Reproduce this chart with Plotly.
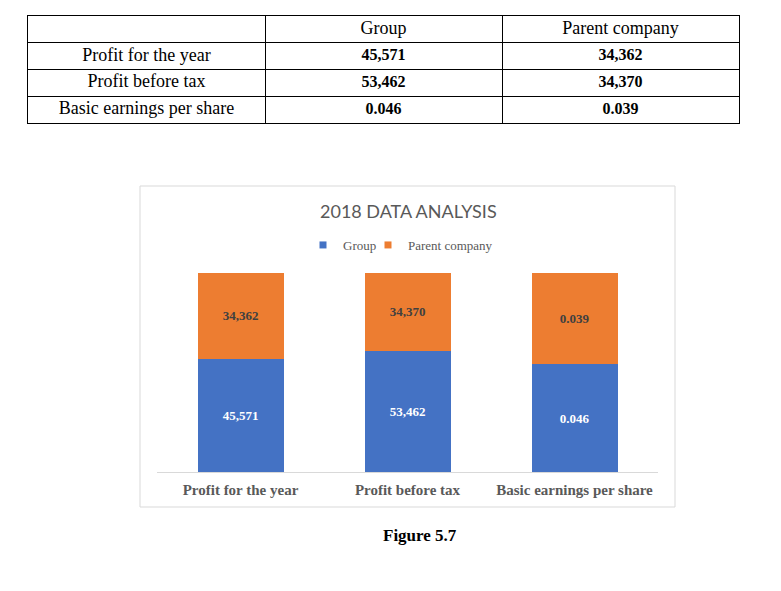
import plotly.graph_objects as go

# data
categories = ['Profit for the year', 'Profit before tax', 'Basic earnings per share']
series_names = ['Group', 'Parent company']
group_vals = [45571, 53462, 0.046]
parent_vals = [34362, 34370, 0.039]
group_txt = ['45,571', '53,462', '0.046']
parent_txt = ['34,362', '34,370', '0.039']

# page body has an 8px margin, so the figure starts at (8, 8)
OFF = 8
W, H = 781 - OFF, 591 - OFF


def px(x):
    return (x - OFF) / W


def py(y):
    return 1 - (y - OFF) / H


serif = 'Liberation Serif, Times New Roman, serif'
blue = '#4472C4'
orange = '#ED7D31'

fig = go.Figure()

# ---- table (text on a 3x4 grid axis) ----
header = [''] + series_names
rows = [header] + [[c, '<b>' + g + '</b>', '<b>' + p + '</b>']
                   for c, g, p in zip(categories, group_txt, parent_txt)]
tx, ty, tt, ts = [], [], [], []
for r, row in enumerate(rows):
    for c, val in enumerate(row):
        tx.append(c + 0.5)
        ty.append(r + 0.5)
        tt.append(val)
        ts.append(16 if val.startswith('<b>') else 18)

fig.add_trace(go.Scatter(
    x=tx, y=ty, text=tt, mode='text', xaxis='x2', yaxis='y2',
    textposition='middle center', showlegend=False, hoverinfo='skip',
    textfont=dict(family=serif, size=ts, color='black'),
))

# ---- stacked 100% bars ----
fig.add_trace(go.Bar(
    x=categories, y=group_vals, name='Group', showlegend=False,
    marker=dict(color=blue, line=dict(width=0)),
    text=group_txt, textposition='inside', insidetextanchor='middle',
    textfont=dict(family=serif, size=13, color='white'),
    texttemplate='<b>%{text}</b>', textangle=0,
))
fig.add_trace(go.Bar(
    x=categories, y=parent_vals, name='Parent company', showlegend=False,
    marker=dict(color=orange, line=dict(width=0)),
    text=parent_txt, textposition='inside', insidetextanchor='middle',
    textfont=dict(family=serif, size=13, color='#404040'),
    texttemplate='<b>%{text}</b>', textangle=0,
))

# legend entries with small square swatches, one legend box each
for nm, col, lg in zip(series_names, [blue, orange], ['legend', 'legend2']):
    fig.add_trace(go.Scatter(
        x=[None], y=[None], mode='markers', name=nm, legend=lg,
        marker=dict(symbol='square', size=7, color=col),
    ))

legend_style = dict(
    orientation='h', yanchor='middle', xanchor='left',
    font=dict(family=serif, size=13, color='#595959'),
    itemwidth=30, bgcolor='rgba(0,0,0,0)',
)

fig.update_layout(
    width=W, height=H,
    margin=dict(l=0, r=0, t=0, b=0),
    paper_bgcolor='white', plot_bgcolor='white',
    barmode='stack', barnorm='percent', bargap=0.485,
    showlegend=True,
    legend=dict(x=px(303), y=py(245), **legend_style),
    legend2=dict(x=px(368), y=py(245), **legend_style),
    xaxis=dict(
        domain=[px(157), px(658)],
        showline=True, linecolor='#d9d9d9', linewidth=1,
        showgrid=False, ticks='', zeroline=False,
        tickfont=dict(family=serif, size=15, color='#595959'),
        tickvals=categories,
        ticktext=['<b>' + c + '</b>' for c in categories],
        ticklabelstandoff=4,
    ),
    yaxis=dict(
        domain=[py(472), py(273)],
        range=[0, 100], visible=False,
    ),
    xaxis2=dict(
        domain=[px(28), px(739)], anchor='y2', range=[0, 3],
        tickvals=[0, 1, 2, 3], showgrid=True, gridcolor='black', gridwidth=1,
        showticklabels=False, ticks='', zeroline=False,
        showline=True, linecolor='black', linewidth=1, mirror=True,
        fixedrange=True,
    ),
    yaxis2=dict(
        domain=[py(123), py(16)], anchor='x2', range=[4, 0],
        tickvals=[0, 1, 2, 3, 4], showgrid=True, gridcolor='black', gridwidth=1,
        showticklabels=False, ticks='', zeroline=False,
        showline=True, linecolor='black', linewidth=1, mirror=True,
        fixedrange=True,
    ),
    shapes=[dict(
        type='rect', xref='paper', yref='paper',
        x0=px(140), x1=px(675), y0=py(507), y1=py(186),
        line=dict(color='#d9d9d9', width=1), fillcolor='rgba(0,0,0,0)',
        layer='below',
    )],
    annotations=[
        dict(text='2018 DATA ANALYSIS', xref='paper', yref='paper',
             x=px(408), y=py(211), xanchor='center', yanchor='middle',
             showarrow=False,
             font=dict(family='Lato, Open Sans, sans-serif', size=18, color='#595959')),
        dict(text='<b>Figure 5.7</b>', xref='paper', yref='paper',
             x=px(420), y=py(535), xanchor='center', yanchor='middle',
             showarrow=False,
             font=dict(family=serif, size=17, color='black')),
    ],
)

fig.write_html('out.html')
